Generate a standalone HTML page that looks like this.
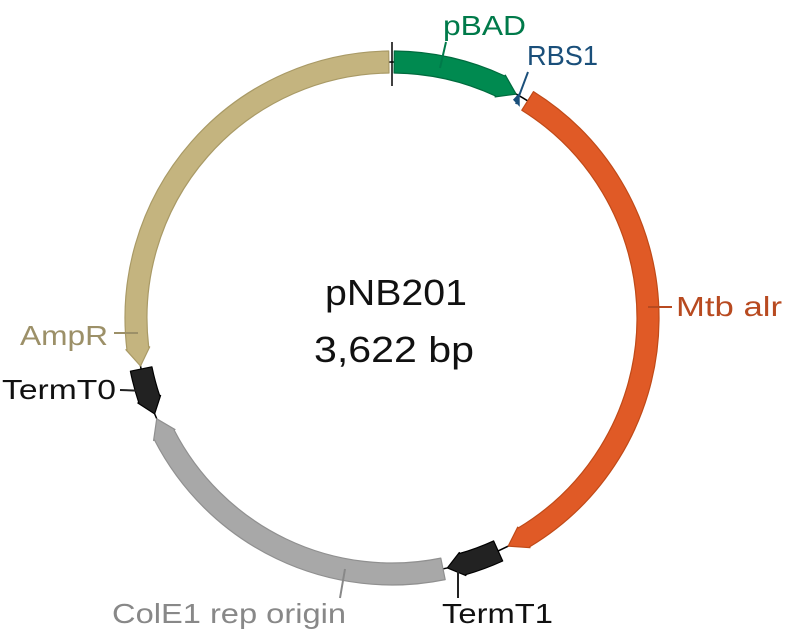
<!DOCTYPE html>
<html><head><meta charset="utf-8">
<style>
html,body{margin:0;padding:0;background:#fff;width:792px;height:640px;overflow:hidden}
svg{display:block}
text{font-family:"Liberation Sans",sans-serif}
</style></head>
<body>
<svg id="s" width="792" height="640" viewBox="0 0 792 640" xmlns="http://www.w3.org/2000/svg">
<circle cx="392" cy="318" r="256" fill="none" stroke="#000" stroke-width="1.5"/>
<g id="arcs"></g>
<line x1="392" y1="42" x2="392" y2="86" stroke="#000" stroke-width="1.5"/>
<g stroke-width="2" fill="none">
<line x1="440" y1="68" x2="446" y2="42" stroke="#007a4a"/>
<line x1="516" y1="104" x2="528" y2="72" stroke="#1a4f7a"/>
<line x1="648" y1="307" x2="672" y2="307" stroke="#b84a20"/>
<line x1="114" y1="333" x2="138" y2="333" stroke="#9c9068"/>
<line x1="120" y1="390" x2="146" y2="391" stroke="#222"/>
<line x1="345" y1="569" x2="340" y2="598" stroke="#888"/>
<line x1="458" y1="563" x2="458" y2="598" stroke="#222"/>
</g>
<text x="443" y="35" font-size="28" fill="#007a4a" textLength="83" lengthAdjust="spacingAndGlyphs">pBAD</text>
<text x="527" y="65" font-size="28" fill="#1a4f7a" textLength="71" lengthAdjust="spacingAndGlyphs">RBS1</text>
<text x="676" y="316" font-size="28" fill="#b84a20" textLength="106" lengthAdjust="spacingAndGlyphs">Mtb alr</text>
<text x="20" y="345" font-size="28" fill="#9c9068" textLength="88" lengthAdjust="spacingAndGlyphs">AmpR</text>
<text x="2" y="399" font-size="28" fill="#111" textLength="114" lengthAdjust="spacingAndGlyphs">TermT0</text>
<text x="112" y="623" font-size="28" fill="#888" textLength="234" lengthAdjust="spacingAndGlyphs">ColE1 rep origin</text>
<text x="442" y="623" font-size="28" fill="#111" textLength="111" lengthAdjust="spacingAndGlyphs">TermT1</text>
<text x="325" y="305" font-size="36" fill="#111" textLength="142" lengthAdjust="spacingAndGlyphs">pNB201</text>
<text x="314" y="362" font-size="36" fill="#111" textLength="160" lengthAdjust="spacingAndGlyphs">3,622 bp</text>
</svg>
<script>
var cx=392,cy=318,R=256;
function P(a,r){var t=a*Math.PI/180;return [cx+r*Math.sin(t),cy-r*Math.cos(t)];}
function f(p){return p[0].toFixed(1)+","+p[1].toFixed(1);}
function feat(a1,a2,fill,stroke,hw,head){
  var w=11,dir=a2>a1?1:-1,ab=a2-dir*head;
  var large=Math.abs(ab-a1)>180?1:0,sw=dir>0?1:0;
  var d="M"+f(P(a1,R+w))+" A"+(R+w)+","+(R+w)+" 0 "+large+" "+sw+" "+f(P(ab,R+w))+
  " L"+f(P(ab,R+hw))+" L"+f(P(a2,R))+" L"+f(P(ab,R-hw))+" L"+f(P(ab,R-w))+
  " A"+(R-w)+","+(R-w)+" 0 "+large+" "+(1-sw)+" "+f(P(a1,R-w))+" Z";
  return '<path d="'+d+'" fill="'+fill+'" stroke="'+stroke+'" stroke-width="1.2" stroke-linejoin="round"/>';
}
var g="";
g+=feat(359.3,259.2,"#c4b47f","#a99a66",12,4);
g+=feat(0.5,29,"#008a50","#006b3e",12,4);
g+=feat(32,153,"#e05a26","#c04a18",12,4);
g+=feat(155.5,167.5,"#222","#000",12,3.5);
g+=feat(168.5,246.8,"#a8a8a8","#909090",12,4);
g+=feat(258.5,248,"#222","#000",12,3.5);
g+='<path d="'+"M"+f(P(29.6,R+1))+" L"+f(P(30.8,R-8))+" L"+f(P(29.2,R-6))+'Z" fill="#1a4f7a" stroke="#1a4f7a" stroke-width="1.5"/>';
document.getElementById("arcs").innerHTML=g;
</script>
</body></html>
